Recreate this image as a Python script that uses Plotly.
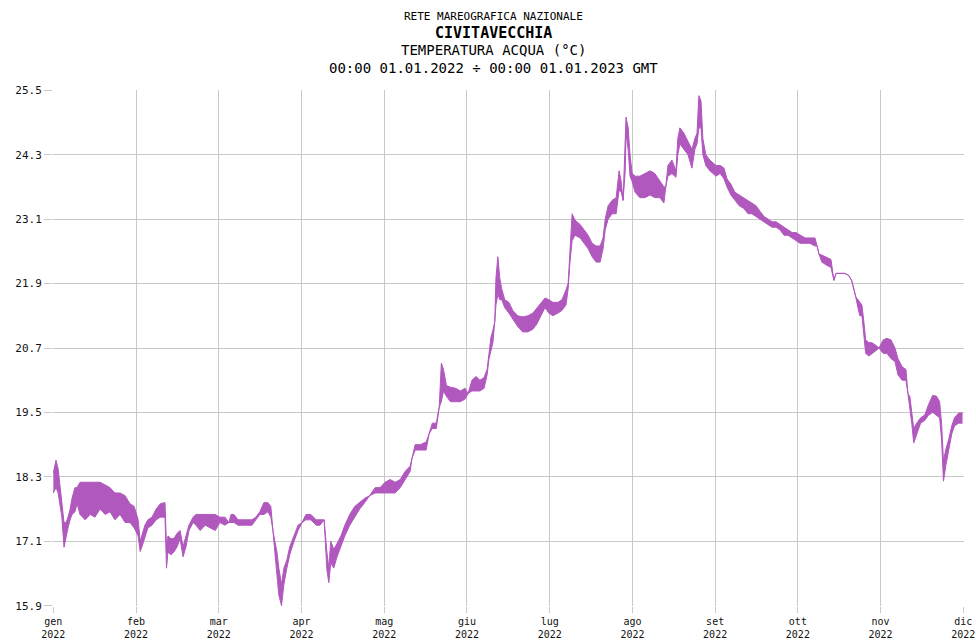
import numpy as np
import plotly.graph_objects as go

# Day of year (0 = 1 Jan 2022) and the hourly min / max water temperature (°C)
days = [
    0, 1.0, 1.8, 2.5, 3.2, 4.0, 4.8, 5.5, 6.3, 7.0, 8.1, 8.9, 10, 11.9, 13.8, 15.6, 17.5, 19.4, 21.2, 23.1, 25, 26.9, 28.7, 30.3,
    31.7, 32.4, 33, 34, 35, 36.4, 37.8, 39.2, 40.8, 41.3, 41.8, 42.8, 43.8, 44.9, 45.9, 46.9, 47.9, 48.9, 50.3, 51.3, 52.7, 54.4, 56.1, 57.8,
    59.4, 61.3, 62.8, 63.6, 64.7, 66.2, 68.8, 71.4, 72.9, 74.4, 75.9, 77.4, 78.5, 79.3, 80, 80.8, 81.5, 82.5, 83.4, 84.5, 85.6, 87.2, 88.7,
    90.2, 91.6, 93.4, 95.3, 96.7, 98.2, 99.2, 99.9, 100.6, 101.7, 102.8, 104.3, 105.7, 107.5, 109.3, 111.1, 112.9, 114.7, 116.7, 118.5,
    120.3, 122.2, 124.1, 126, 127.8, 129.7, 130.4, 131.6, 133.5, 135.7, 136.8, 138, 139.5, 140.6, 141.4, 142.2, 143.3, 144.8, 146.7, 148.5, 150.3,
    151.4, 152.8, 154.3, 155.7, 157.2, 158.3, 159, 159.7, 160.4, 161.1, 161.5, 162.2, 162.9, 163.6, 164.7, 166.2, 167.6, 169.4, 171.2, 173.1, 174.9, 176.4, 177.8, 179.3, 180.7,
    182.2, 184.1, 185.6, 187.1, 187.9, 188.6, 189.4, 190.5, 192.4, 193.9, 195.4, 196.9, 198.4, 199.9, 201, 201.8, 202.9, 204.4, 205.9, 207, 207.8, 208.5, 209.3, 209.6, 210.4, 211.1, 211.9,
    213, 214.8, 216.7, 218.6, 220.4, 222.3, 223.8, 224.5, 225.3, 226.8, 228.3, 229, 229.8, 231.3, 232.8, 234.3, 235.4, 236.2, 236.9, 237.7, 238.4, 239.5, 241, 242.2,
    243.3, 244.8, 246.2, 247.3, 248.7, 250.2, 251.7, 253.4, 254.9, 256.3, 257.8, 259.2, 260.7, 262.2, 263.6, 265.1, 266.5, 268, 269.4, 270.9, 272.3,
    273.8, 275.7, 277.5, 279.4, 280.2, 280.9, 282, 283.5, 285.4, 286.5, 287.3, 290.6, 292.1, 293.2, 294, 294.7, 295.5, 296.2, 297, 297.7, 298.4, 299.6, 300.7, 302.2, 303.4,
    304.9, 306.3, 307.8, 309.2, 310.3, 311.8, 313.2, 313.9, 314.6, 315.3, 316, 317.1, 318.5, 320, 321.4, 322.9, 324.3, 325.4, 326.1, 326.8, 327.6, 328.7, 329.8, 330.8, 332.3, 333.7,
]

temp_min = [
    18.0, 18.1, 18.0, 17.8, 17.55, 16.99, 17.2, 17.35, 17.5, 17.6, 17.65, 17.8, 17.6, 17.5, 17.6, 17.55, 17.7, 17.6, 17.65, 17.5, 17.6, 17.45, 17.45, 17.35,
    17.2, 16.91, 17.0, 17.2, 17.35, 17.4, 17.5, 17.55, 17.55, 16.6, 16.9, 16.85, 16.9, 17.0, 17.15, 16.81, 17.0, 17.3, 17.45, 17.4, 17.3, 17.4, 17.35, 17.3,
    17.45, 17.4, 17.45, 17.45, 17.45, 17.4, 17.4, 17.4, 17.5, 17.6, 17.6, 17.65, 17.55, 17.3, 16.9, 16.5, 16.1, 15.9, 16.3, 16.6, 16.85, 17.1, 17.3,
    17.45, 17.5, 17.5, 17.4, 17.4, 17.5, 16.57, 16.33, 16.7, 16.6, 16.8, 17.0, 17.2, 17.4, 17.55, 17.7, 17.82, 17.95, 18.0, 18.0,
    18.0, 18.0, 18.0, 18.1, 18.25, 18.4, 18.65, 18.8, 18.8, 18.8, 19.1, 19.2, 19.2, 19.6, 19.7, 19.9, 19.8, 19.7, 19.7, 19.7, 19.75,
    19.85, 19.9, 19.9, 19.9, 19.95, 20.2, 20.5, 20.66, 20.8, 21.2, 21.5, 21.7, 21.6, 21.6, 21.45, 21.35, 21.25, 21.1, 21.0, 21.0, 21.05, 21.15, 21.3, 21.45, 21.35,
    21.3, 21.35, 21.4, 21.5, 21.8, 22.3, 22.7, 22.8, 22.75, 22.65, 22.55, 22.4, 22.3, 22.3, 22.55, 22.9, 23.1, 23.2, 23.2, 23.64, 23.6, 23.45, 24.0, 24.7, 24.4, 23.9, 23.8,
    23.6, 23.5, 23.5, 23.55, 23.5, 23.5, 23.4, 23.7, 23.9, 23.95, 23.88, 24.3, 24.5, 24.4, 24.3, 24.05, 24.4, 24.5, 24.8, 24.8, 24.3, 24.1, 24.0, 23.95,
    23.9, 23.95, 23.85, 23.7, 23.55, 23.45, 23.35, 23.3, 23.2, 23.2, 23.15, 23.1, 23.05, 23.0, 22.95, 22.95, 22.9, 22.8, 22.8, 22.75, 22.7,
    22.65, 22.65, 22.65, 22.6, 22.6, 22.45, 22.3, 22.25, 22.2, 21.96, 22.09, 22.09, 22.05, 21.95, 21.8, 21.65, 21.45, 21.3, 21.3, 21.0, 20.6, 20.55, 20.6, 20.65, 20.7,
    20.6, 20.6, 20.5, 20.45, 20.2, 20.1, 20.1, 19.85, 19.6, 19.3, 18.93, 19.1, 19.3, 19.35, 19.45, 19.5, 19.45, 19.4, 19.0, 18.22, 18.5, 18.8, 19.1, 19.25, 19.3, 19.3,
]

temp_max = [
    18.37, 18.61, 18.45, 18.06, 17.82, 17.45, 17.45, 17.55, 17.7, 17.9, 18.1, 18.1, 18.2, 18.2, 18.2, 18.2, 18.2, 18.15, 18.1, 18.0, 18.0, 17.95, 17.8, 17.75,
    17.5, 17.1, 17.2, 17.4, 17.5, 17.55, 17.7, 17.8, 17.82, 17.0, 17.2, 17.15, 17.15, 17.25, 17.3, 17.0, 17.2, 17.4, 17.55, 17.6, 17.6, 17.6, 17.6, 17.6,
    17.55, 17.55, 17.45, 17.6, 17.6, 17.5, 17.5, 17.5, 17.55, 17.65, 17.82, 17.82, 17.75, 17.3, 17.1, 16.9, 16.6, 16.3, 16.6, 16.75, 17.0, 17.2, 17.4,
    17.45, 17.6, 17.6, 17.5, 17.5, 17.5, 16.9, 16.6, 17.1, 16.95, 17.05, 17.2, 17.4, 17.6, 17.75, 17.82, 17.9, 17.95, 18.1, 18.1,
    18.2, 18.25, 18.2, 18.25, 18.4, 18.5, 18.65, 18.9, 18.9, 18.95, 19.1, 19.3, 19.3, 19.6, 20.42, 20.3, 20.0, 19.97, 19.95, 19.9, 19.95,
    19.85, 20.1, 20.17, 20.1, 20.15, 20.3, 20.6, 20.9, 21.03, 21.2, 22.0, 22.4, 22.0, 21.8, 21.6, 21.55, 21.4, 21.3, 21.28, 21.3, 21.35, 21.45, 21.55, 21.63, 21.6,
    21.55, 21.55, 21.6, 21.78, 21.9, 22.5, 23.2, 23.08, 23.0, 22.9, 22.8, 22.65, 22.6, 22.6, 22.75, 23.1, 23.35, 23.45, 23.5, 24.0, 23.8, 23.45, 24.6, 25.0, 24.8, 24.3, 23.95,
    23.9, 23.9, 23.95, 24.0, 23.95, 23.8, 23.7, 23.7, 24.1, 24.2, 24.0, 24.6, 24.8, 24.7, 24.55, 24.4, 24.6, 24.7, 25.4, 25.3, 24.6, 24.3, 24.2, 24.15,
    24.1, 24.1, 24.05, 23.85, 23.75, 23.6, 23.55, 23.5, 23.45, 23.4, 23.35, 23.25, 23.15, 23.1, 23.05, 23.05, 23.0, 22.95, 22.9, 22.85, 22.85,
    22.8, 22.75, 22.75, 22.75, 22.6, 22.45, 22.43, 22.4, 22.35, 21.96, 22.09, 22.09, 22.05, 21.95, 21.8, 21.65, 21.6, 21.55, 21.5, 21.2, 20.85, 20.8, 20.8, 20.75, 20.7,
    20.85, 20.88, 20.85, 20.7, 20.5, 20.35, 20.3, 19.85, 19.8, 19.5, 19.2, 19.3, 19.4, 19.45, 19.65, 19.82, 19.8, 19.7, 19.3, 18.6, 18.8, 19.0, 19.25, 19.4, 19.49, 19.49,
]

month_labels = ["gen", "feb", "mar", "apr", "mag", "giu", "lug", "ago", "set", "ott", "nov", "dic"]
month_start_days = [0, 31, 59, 90, 120, 151, 181, 212, 243, 273, 304, 334, 365]
year = "2022"

y_ticks = [15.9, 17.1, 18.3, 19.5, 20.7, 21.9, 23.1, 24.3, 25.5]

assert len(days) == len(temp_min) == len(temp_max)

# Each month occupies the same width on the time axis
month_pos = np.interp(days, month_start_days, np.arange(len(month_start_days)))
month_ticks = list(range(len(month_labels)))

LINE = "#b158be"
GRID = "#c8c8c8"
MONO = "DejaVu Sans Mono, Liberation Mono, monospace"
X_RANGE = [-0.004, 11.008]

fig = go.Figure()
fig.add_trace(go.Scatter(
    x=month_pos, y=temp_max, mode="lines",
    line=dict(color=LINE, width=1), hoverinfo="skip", showlegend=False,
))
fig.add_trace(go.Scatter(
    x=month_pos, y=temp_min, mode="lines",
    line=dict(color=LINE, width=1), fill="tonexty", fillcolor=LINE,
    hoverinfo="skip", showlegend=False,
))

y_font = dict(family=MONO, size=11, color="#111111")
x_font = dict(family=MONO, size=10, color="#111111")

# Month names on the main axis, the year on a second row underneath
fig.update_layout(
    xaxis=dict(
        range=X_RANGE,
        tickmode="array", tickvals=month_ticks, ticktext=month_labels,
        showgrid=True, gridcolor=GRID, gridwidth=1,
        ticks="outside", ticklen=6, tickcolor=GRID, tickwidth=1,
        showline=False, zeroline=False, automargin=False,
        ticklabeloverflow="allow", tickfont=x_font,
    ),
    xaxis2=dict(
        range=X_RANGE, overlaying="x", anchor="y", side="bottom",
        tickmode="array", tickvals=month_ticks, ticktext=[year] * len(month_ticks),
        showgrid=False, ticks="", showline=False, zeroline=False,
        automargin=False, ticklabelstandoff=21,
        ticklabeloverflow="allow", tickfont=x_font,
    ),
    yaxis=dict(
        range=[15.895, 25.505],
        tickmode="array", tickvals=y_ticks,
        ticktext=[f"{v:.1f}" for v in y_ticks],
        showgrid=True, gridcolor=GRID, gridwidth=1,
        ticks="outside", ticklen=8, tickcolor=GRID, tickwidth=1,
        showline=False, zeroline=False, automargin=False,
        tickfont=y_font,
    ),
)
# empty trace bound to the year axis so that row is drawn
fig.add_trace(go.Scatter(x=[None], y=[None], xaxis="x2", showlegend=False, hoverinfo="skip"))

title_lines = [
    ("RETE MAREOGRAFICA NAZIONALE", 11, 17, False),
    ("CIVITAVECCHIA", 15, 33, True),
    ("TEMPERATURA ACQUA (°C)", 14, 50, False),
    ("00:00 01.01.2022 ÷ 00:00 01.01.2023 GMT", 14, 68, False),
]
for text, size, ypix, bold in title_lines:
    fig.add_annotation(
        text=f"<b>{text}</b>" if bold else text,
        xref="paper", yref="paper",
        x=(494 - 53.3) / 911, y=(606 - ypix) / 516,
        xanchor="center", yanchor="middle",
        showarrow=False,
        font=dict(family=MONO, size=size, color="#000000"),
    )

fig.update_layout(
    width=976, height=641,
    margin=dict(l=53, r=12, t=90, b=35),
    paper_bgcolor="white", plot_bgcolor="white",
)

fig.write_html("out.html")
